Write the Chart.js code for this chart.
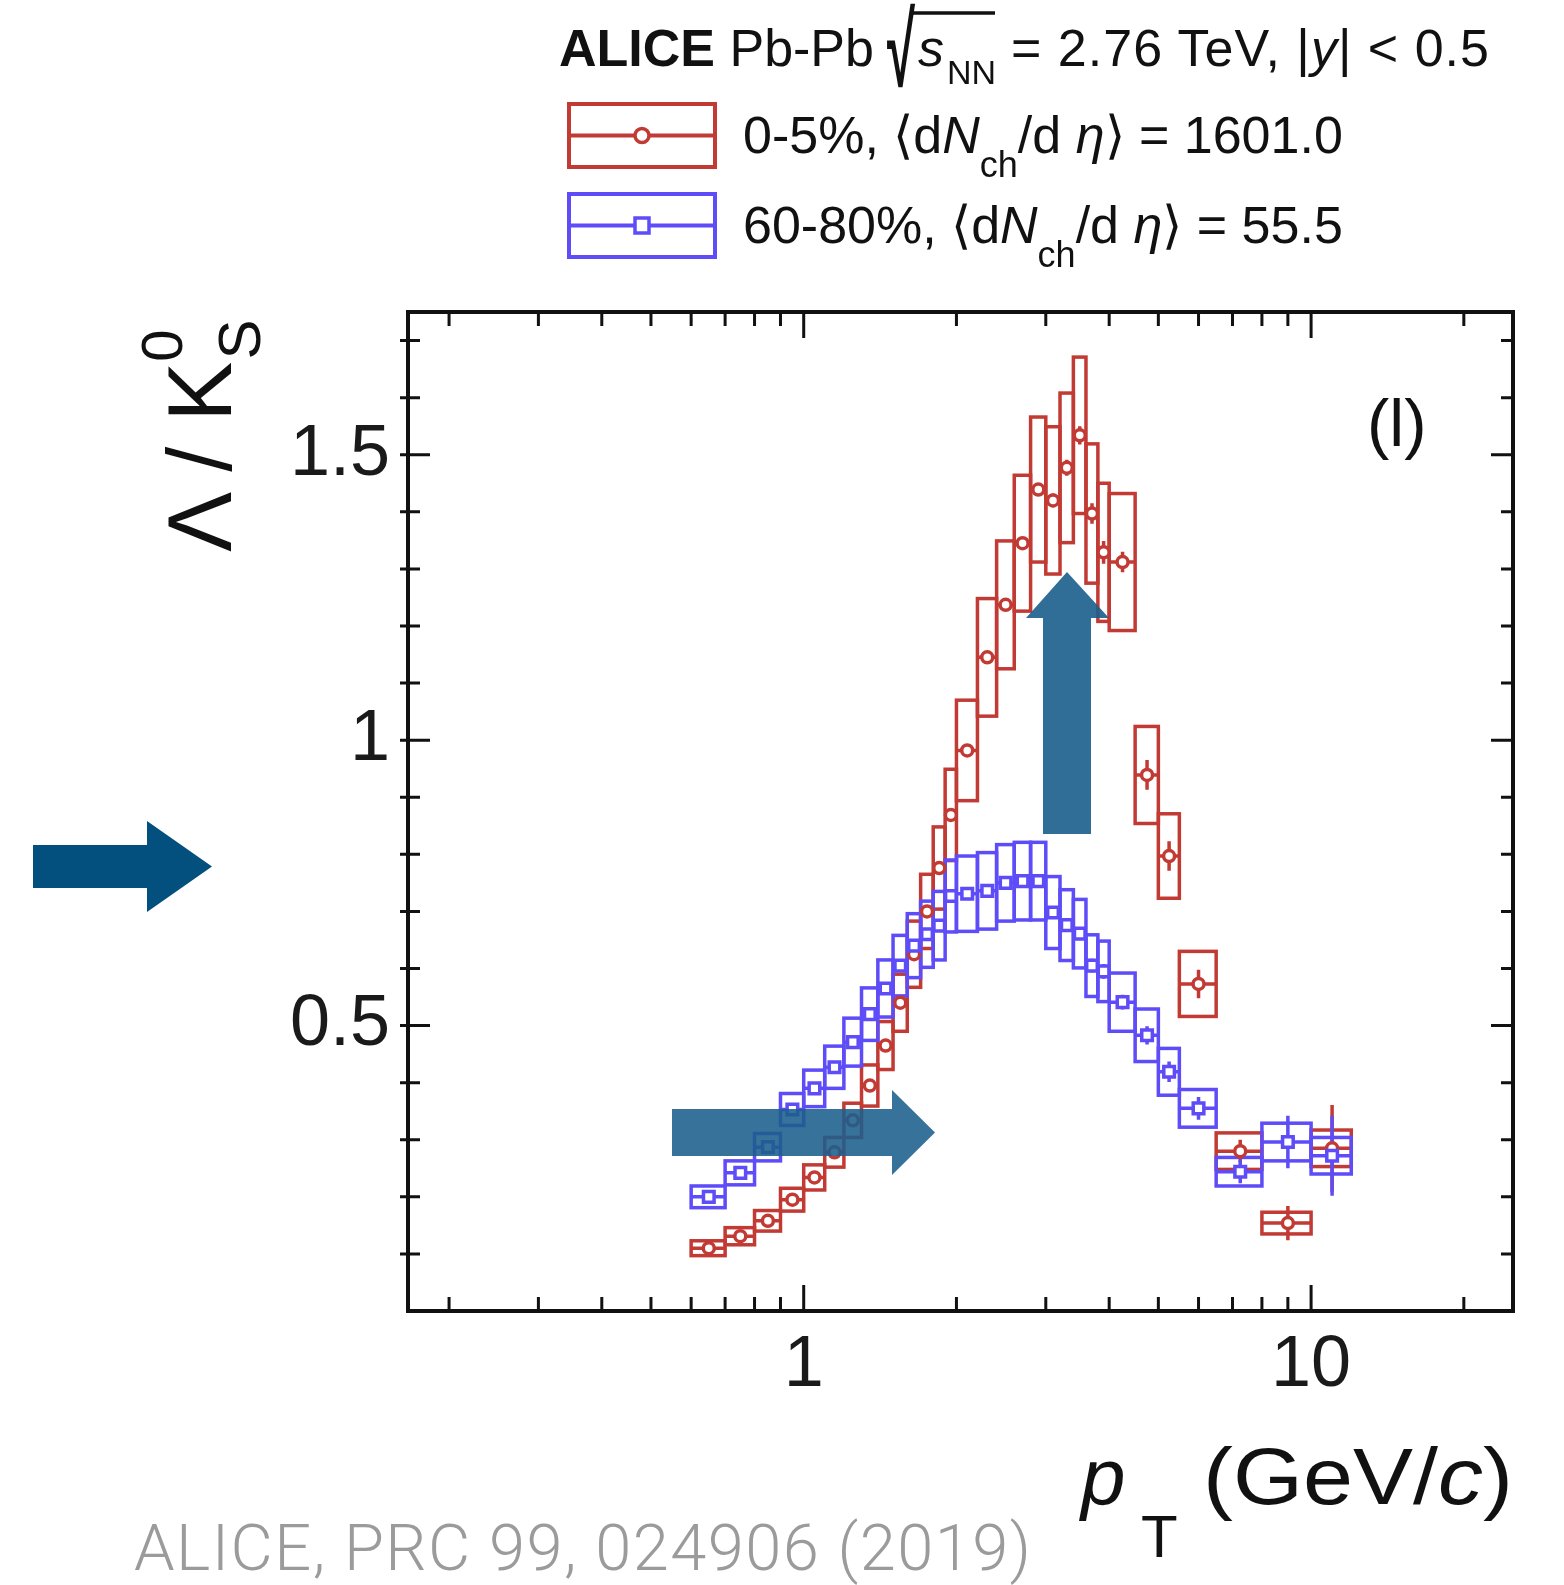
<!DOCTYPE html>
<html>
<head>
<meta charset="utf-8">
<title>Lambda / K0S ratio, ALICE Pb-Pb 2.76 TeV</title>
<script src="https://cdn.jsdelivr.net/npm/chart.js@4.4.1/dist/chart.umd.min.js"></script>
<style>
  html, body { margin: 0; padding: 0; background: #fff; }
  #page { position: relative; width: 1564px; height: 1585px; overflow: hidden; }
  #ratio { position: absolute; left: 0; top: 0; }
  #overlay { position: absolute; left: 0; top: 0; pointer-events: none; }
  #overlay text { font-family: "Liberation Sans", Arial, sans-serif; fill: #111; }
</style>
</head>
<body>
<div id="page">
  <canvas id="ratio" width="1564" height="1585"></canvas>
  <svg id="overlay" width="1564" height="1585" viewBox="0 0 1564 1585">
    <!-- header -->
    <text x="559" y="66" font-size="52"><tspan font-weight="bold">ALICE</tspan> Pb-Pb</text>
    <text x="887" y="86" font-size="104" font-weight="bold" textLength="28" lengthAdjust="spacingAndGlyphs">√</text>
    <line x1="913" y1="13" x2="995" y2="13" stroke="#111" stroke-width="3.5"/>
    <text x="918" y="66" font-size="52" font-style="italic">s</text>
    <text x="947" y="84" font-size="34">NN</text>
    <text x="1011" y="66" font-size="52" textLength="478">= 2.76 TeV, |<tspan font-style="italic">y</tspan>| &lt; 0.5</text>

    <!-- legend -->
    <rect x="569" y="104" width="146" height="63" fill="none" stroke="#c23a34" stroke-width="4"/>
    <line x1="569" y1="135.5" x2="715" y2="135.5" stroke="#c23a34" stroke-width="4"/>
    <circle cx="642" cy="135.5" r="7" fill="#fff" stroke="#c23a34" stroke-width="3.5"/>
    <text x="743" y="153" font-size="52">0-5%, ⟨d<tspan font-style="italic">N</tspan><tspan font-size="36" dy="24">ch</tspan><tspan dy="-24">/d </tspan><tspan font-style="italic">η</tspan>⟩ = 1601.0</text>

    <rect x="569" y="194" width="146" height="63" fill="none" stroke="#5d4cf7" stroke-width="4"/>
    <line x1="569" y1="225.5" x2="715" y2="225.5" stroke="#5d4cf7" stroke-width="4"/>
    <rect x="635" y="218" width="14" height="15" fill="#fff" stroke="#5d4cf7" stroke-width="3.5"/>
    <text x="743" y="243" font-size="52">60-80%, ⟨d<tspan font-style="italic">N</tspan><tspan font-size="36" dy="24">ch</tspan><tspan dy="-24">/d </tspan><tspan font-style="italic">η</tspan>⟩ = 55.5</text>

    <!-- panel tag -->
    <text x="1367" y="446" font-size="67">(l)</text>

    <!-- axis titles -->
    <text transform="translate(231,552) rotate(-90)" font-size="90">Λ / K<tspan font-size="58" dy="-49">0</tspan><tspan font-size="60" dx="-30" dy="78">S</tspan></text>
    <text x="1081" y="1504" font-size="80" font-style="italic">p</text>
    <text x="1141" y="1557" font-size="60">T</text>
    <text x="1203" y="1504" font-size="80" textLength="310" lengthAdjust="spacingAndGlyphs">(GeV/<tspan font-style="italic">c</tspan>)</text>

    <!-- citation -->
    <text x="134" y="1570" font-size="65" style="font-family: Roboto, 'Liberation Sans', sans-serif; font-weight: 300; fill: #9b9b9b;" textLength="897">ALICE, PRC 99, 024906 (2019)</text>

    <!-- annotation arrows -->
    <polygon points="33,845 147,845 147,821 212,866.5 147,912 147,888 33,888" fill="#03507f"/>
    <polygon points="672,1109 892,1109 892,1090 935,1132.5 892,1175 892,1156 672,1156" fill="rgba(27,94,140,0.88)"/>
    <polygon points="1043,834 1043,618 1026,618 1067,572 1109,618 1091,618 1091,834" fill="rgba(27,94,140,0.9)"/>
  </svg>
</div>
<script>
// pT bins (GeV/c), shared by both centrality classes
const ptLow  = [0.6, 0.7, 0.8, 0.9, 1.0, 1.1, 1.2, 1.3, 1.4, 1.5, 1.6, 1.7, 1.8, 1.9,
                2.0, 2.2, 2.4, 2.6, 2.8, 3.0, 3.2, 3.4, 3.6, 3.8, 4.0, 4.5, 5.0, 5.5, 6.5, 8.0, 10.0];
const ptHigh = [0.7, 0.8, 0.9, 1.0, 1.1, 1.2, 1.3, 1.4, 1.5, 1.6, 1.7, 1.8, 1.9, 2.0,
                2.2, 2.4, 2.6, 2.8, 3.0, 3.2, 3.4, 3.6, 3.8, 4.0, 4.5, 5.0, 5.5, 6.5, 8.0, 10.0, 12.0];

// 0-5% centrality
const ratioCentral = [0.110, 0.131, 0.158, 0.195, 0.234, 0.278, 0.334, 0.395, 0.465, 0.540, 0.625, 0.700, 0.776, 0.869,
                      0.982, 1.145, 1.237, 1.345, 1.439, 1.420, 1.477, 1.534, 1.397, 1.329, 1.312, 0.939, 0.797, 0.573, 0.280, 0.154, 0.285];
const sysCentral   = [0.013, 0.015, 0.018, 0.020, 0.022, 0.026, 0.030, 0.036, 0.042, 0.050, 0.058, 0.065, 0.072, 0.080,
                      0.088, 0.103, 0.112, 0.119, 0.127, 0.129, 0.131, 0.137, 0.122, 0.121, 0.120, 0.085, 0.074, 0.057, 0.032, 0.019, 0.032];
const statCentral  = [0.002, 0.002, 0.002, 0.003, 0.003, 0.003, 0.003, 0.004, 0.004, 0.004, 0.005, 0.005, 0.006, 0.006,
                      0.007, 0.008, 0.009, 0.010, 0.011, 0.012, 0.014, 0.016, 0.018, 0.020, 0.018, 0.026, 0.026, 0.025, 0.020, 0.030, 0.076];

// 60-80% centrality
const ratioPeriph = [0.200, 0.242, 0.287, 0.353, 0.390, 0.427, 0.471, 0.520, 0.565, 0.605, 0.640, 0.660, 0.675, 0.727,
                     0.731, 0.736, 0.750, 0.753, 0.753, 0.698, 0.676, 0.661, 0.605, 0.595, 0.541, 0.483, 0.419, 0.355, 0.244, 0.296, 0.272];
const sysPeriph   = [0.019, 0.021, 0.024, 0.028, 0.032, 0.037, 0.042, 0.046, 0.050, 0.053, 0.056, 0.058, 0.060, 0.063,
                     0.066, 0.067, 0.067, 0.068, 0.068, 0.063, 0.062, 0.060, 0.054, 0.053, 0.051, 0.046, 0.041, 0.033, 0.025, 0.033, 0.032];
const statPeriph  = [0.002, 0.002, 0.002, 0.003, 0.003, 0.003, 0.003, 0.004, 0.004, 0.004, 0.004, 0.005, 0.005, 0.005,
                     0.006, 0.006, 0.007, 0.007, 0.008, 0.009, 0.010, 0.011, 0.012, 0.013, 0.013, 0.016, 0.018, 0.020, 0.020, 0.046, 0.070];

// axis ticks
const xTicks = [0.2, 0.3, 0.4, 0.5, 0.6, 0.7, 0.8, 0.9, 1, 2, 3, 4, 5, 6, 7, 8, 9, 10, 20];
const xLabelValues = [1, 10];
const yTicks = [0.1, 0.2, 0.3, 0.4, 0.5, 0.6, 0.7, 0.8, 0.9, 1.0, 1.1, 1.2, 1.3, 1.4, 1.5, 1.6, 1.7];
const yLabelValues = [0.5, 1, 1.5];

const RED = "#c23a34";
const BLUE = "#5d4cf7";

const ptCenter = ptLow.map((lo, i) => (lo + ptHigh[i]) / 2);
const toPoints = (vals) => vals.map((v, i) => ({ x: ptCenter[i], y: v }));

const series = [
  { color: RED, values: ratioCentral, sys: sysCentral, stat: statCentral },
  { color: BLUE, values: ratioPeriph, sys: sysPeriph, stat: statPeriph },
];

// systematic boxes + x/stat error bars
const errorBoxes = {
  id: "errorBoxes",
  beforeDatasetsDraw(chart) {
    const { ctx, chartArea: a, scales: { x, y } } = chart;
    ctx.save();
    ctx.beginPath();
    ctx.rect(a.left, a.top, a.right - a.left, a.bottom - a.top);
    ctx.clip();
    series.forEach((s) => {
      ctx.strokeStyle = s.color;
      ctx.lineWidth = 3.5;
      s.values.forEach((v, i) => {
        const x0 = x.getPixelForValue(ptLow[i]);
        const x1 = x.getPixelForValue(ptHigh[i]);
        const xc = x.getPixelForValue(ptCenter[i]);
        const yTop = y.getPixelForValue(v + s.sys[i]);
        const yBot = y.getPixelForValue(v - s.sys[i]);
        const yc = y.getPixelForValue(v);
        ctx.strokeRect(x0, yTop, x1 - x0, yBot - yTop);
        ctx.beginPath();
        ctx.moveTo(x0, yc);
        ctx.lineTo(x1, yc);
        ctx.moveTo(xc, y.getPixelForValue(v + s.stat[i]));
        ctx.lineTo(xc, y.getPixelForValue(v - s.stat[i]));
        ctx.stroke();
      });
    });
    ctx.restore();
  },
};

// ROOT-like frame with inward ticks on all four sides
const frame = {
  id: "frame",
  afterDraw(chart) {
    const { ctx, chartArea: a, scales: { x, y } } = chart;
    ctx.save();
    ctx.strokeStyle = "#111";
    ctx.lineWidth = 3;
    ctx.beginPath();
    xTicks.forEach((v) => {
      const px = x.getPixelForValue(v);
      const len = xLabelValues.includes(v) ? 26 : 14;
      ctx.moveTo(px, a.bottom);
      ctx.lineTo(px, a.bottom - len);
      ctx.moveTo(px, a.top);
      ctx.lineTo(px, a.top + len);
    });
    yTicks.forEach((v) => {
      const py = y.getPixelForValue(v);
      const len = yLabelValues.includes(v) ? 22 : 12;
      ctx.moveTo(a.left - 8, py);
      ctx.lineTo(a.left + len, py);
      ctx.moveTo(a.right, py);
      ctx.lineTo(a.right - len, py);
    });
    ctx.stroke();
    ctx.lineWidth = 4;
    ctx.strokeRect(a.left, a.top, a.right - a.left, a.bottom - a.top);
    ctx.restore();
  },
};

const ctx = document.getElementById("ratio");
const chart = new Chart(ctx, {
  type: "scatter",
  data: {
    datasets: [
      {
        label: "60-80%",
        data: toPoints(ratioPeriph),
        pointStyle: "rect",
        pointRadius: 7.5,
        borderWidth: 3.5,
        borderColor: BLUE,
        backgroundColor: "#fff",
      },
      {
        label: "0-5%",
        data: toPoints(ratioCentral),
        pointStyle: "circle",
        pointRadius: 5.5,
        borderWidth: 3.5,
        borderColor: RED,
        backgroundColor: "#fff",
      },
    ],
  },
  options: {
    responsive: false,
    animation: false,
    layout: { padding: { left: 0, top: 312, right: 51, bottom: 0 } },
    plugins: { legend: { display: false }, tooltip: { enabled: false } },
    scales: {
      x: {
        type: "logarithmic",
        min: 0.166,
        max: 25,
        grid: { display: false, drawTicks: false },
        border: { display: false },
        afterBuildTicks: (scale) => {
          scale.ticks = xTicks.map((v) => ({ value: v }));
        },
        afterFit: (scale) => {
          scale.height = 274;
        },
        ticks: {
          autoSkip: false,
          maxRotation: 0,
          padding: 12,
          color: "#1a1a1a",
          font: { family: "Liberation Sans", size: 72 },
          callback: (v) => (xLabelValues.includes(v) ? String(v) : ""),
        },
      },
      y: {
        min: 0,
        max: 1.75,
        grid: { display: false, drawTicks: false },
        border: { display: false },
        afterBuildTicks: (scale) => {
          scale.ticks = yTicks.map((v) => ({ value: v }));
        },
        afterFit: (scale) => {
          scale.width = 408;
        },
        ticks: {
          autoSkip: false,
          padding: 18,
          color: "#1a1a1a",
          font: { family: "Liberation Sans", size: 72 },
          callback: (v) => (yLabelValues.includes(v) ? String(v) : ""),
        },
      },
    },
  },
  plugins: [errorBoxes, frame],
});
</script>
</body>
</html>
